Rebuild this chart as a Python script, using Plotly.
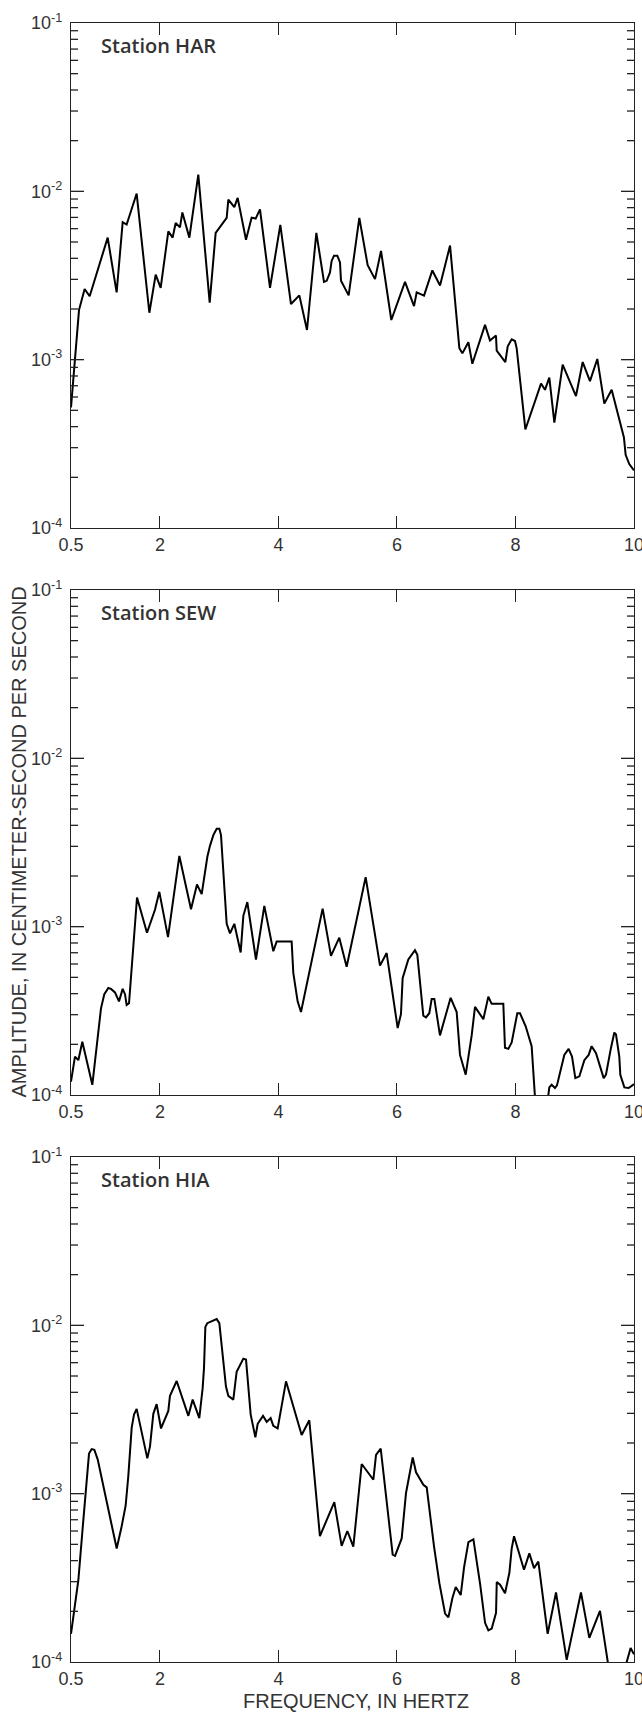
import math
import plotly.graph_objects as go

# ---------------- data ----------------
har_freq = [0.5, 0.635, 0.73, 0.815, 1.119, 1.27, 1.372, 1.439, 1.608, 1.822,
            1.929, 2.013, 2.142, 2.215, 2.266, 2.339, 2.379, 2.497, 2.648, 2.84,
            2.941, 3.127, 3.155, 3.256, 3.312, 3.453, 3.548, 3.616, 3.689, 3.858,
            4.032, 4.212, 4.353, 4.482, 4.64, 4.769, 4.814, 4.87, 4.898, 4.938,
            4.994, 5.039, 5.056, 5.185, 5.365, 5.506, 5.63, 5.731, 5.905, 6.136,
            6.288, 6.333, 6.457, 6.597, 6.727, 6.896, 7.053, 7.104, 7.205, 7.272,
            7.486, 7.570, 7.671, 7.683, 7.829, 7.869, 7.936, 7.992, 8.02, 8.167,
            8.431, 8.498, 8.571, 8.656, 8.796, 9.021, 9.134, 9.257, 9.381, 9.499,
            9.623, 9.83, 9.859, 9.92, 10.0]
har_amp = [5.2e-4, 1.97e-3, 2.63e-3, 2.38e-3, 5.31e-3, 2.51e-3, 6.56e-3, 6.35e-3, 9.7e-3, 1.9e-3,
           3.2e-3, 2.67e-3, 5.78e-3, 5.31e-3, 6.48e-3, 6.11e-3, 7.49e-3, 5.31e-3, 1.256e-2, 2.18e-3,
           5.67e-3, 6.95e-3, 8.93e-3, 8.05e-3, 9.14e-3, 5.16e-3, 6.98e-3, 6.89e-3, 7.82e-3, 2.67e-3,
           6.32e-3, 2.14e-3, 2.41e-3, 1.5e-3, 5.67e-3, 2.9e-3, 2.94e-3, 3.3e-3, 3.86e-3, 4.15e-3,
           4.15e-3, 3.78e-3, 2.94e-3, 2.41e-3, 6.95e-3, 3.64e-3, 3.01e-3, 4.43e-3, 1.72e-3, 2.9e-3,
           2.08e-3, 2.51e-3, 2.4e-3, 3.39e-3, 2.76e-3, 4.76e-3, 1.17e-3, 1.09e-3, 1.27e-3, 9.45e-4,
           1.61e-3, 1.30e-3, 1.39e-3, 1.13e-3, 9.68e-4, 1.2e-3, 1.32e-3, 1.29e-3, 1.17e-3, 3.85e-4,
           7.21e-4, 6.62e-4, 7.82e-4, 4.23e-4, 9.35e-4, 6.08e-4, 9.68e-4, 7.46e-4, 1.01e-3, 5.48e-4,
           6.62e-4, 3.45e-4, 2.72e-4, 2.4e-4, 2.2e-4]

sew_freq = [0.5, 0.567, 0.624, 0.691, 0.86, 1.006, 1.062, 1.13, 1.175, 1.242,
            1.31, 1.372, 1.411, 1.439, 1.479, 1.614, 1.782, 1.917, 1.99, 2.137,
            2.328, 2.525, 2.626, 2.705, 2.801, 2.845, 2.902, 2.958, 3.003, 3.031,
            3.127, 3.183, 3.256, 3.363, 3.408, 3.475, 3.621, 3.762, 3.914, 3.97,
            4.223, 4.251, 4.324, 4.381, 4.746, 4.887, 5.027, 5.151, 5.472, 5.714,
            5.826, 6.012, 6.068, 6.096, 6.192, 6.304, 6.344, 6.445, 6.49, 6.546,
            6.586, 6.631, 6.726, 6.906, 7.008, 7.064, 7.16, 7.261, 7.317, 7.458,
            7.542, 7.598, 7.795, 7.823, 7.88, 7.936, 8.031, 8.076, 8.172, 8.273,
            8.345, 8.44, 8.52, 8.571, 8.61, 8.667, 8.7, 8.824, 8.897, 8.954,
            9.01, 9.078, 9.162, 9.235, 9.285, 9.359, 9.488, 9.527, 9.612, 9.668,
            9.696, 9.752, 9.769, 9.837, 9.91, 10.0]
sew_amp = [1.2e-4, 1.69e-4, 1.61e-4, 2.07e-4, 1.15e-4, 3.27e-4, 3.97e-4, 4.32e-4, 4.27e-4, 4.07e-4,
           3.6e-4, 4.27e-4, 3.97e-4, 3.43e-4, 3.51e-4, 1.49e-3, 9.2e-4, 1.26e-3, 1.61e-3, 8.67e-4,
           2.63e-3, 1.27e-3, 1.78e-3, 1.56e-3, 2.6e-3, 3.02e-3, 3.5e-3, 3.82e-3, 3.82e-3, 3.5e-3,
           1.04e-3, 9.12e-4, 1.04e-3, 7.03e-4, 1.16e-3, 1.4e-3, 6.38e-4, 1.33e-3, 7.14e-4, 8.15e-4,
           8.15e-4, 5.32e-4, 3.6e-4, 3.11e-4, 1.28e-3, 6.7e-4, 8.6e-4, 5.78e-4, 1.97e-3, 5.87e-4,
           6.97e-4, 2.5e-4, 3.03e-4, 4.94e-4, 6.38e-4, 7.24e-4, 6.8e-4, 2.96e-4, 2.89e-4, 3.06e-4,
           3.72e-4, 3.72e-4, 2.26e-4, 3.78e-4, 3.11e-4, 1.73e-4, 1.32e-4, 2.26e-4, 3.34e-4, 2.82e-4,
           3.84e-4, 3.48e-4, 3.48e-4, 1.91e-4, 1.88e-4, 2.05e-4, 3.06e-4, 3.06e-4, 2.56e-4, 1.95e-4,
           8e-5, 6e-5, 8e-5, 1.11e-4, 1.15e-4, 1.1e-4, 1.14e-4, 1.73e-4, 1.88e-4, 1.69e-4,
           1.26e-4, 1.29e-4, 1.61e-4, 1.73e-4, 1.95e-4, 1.77e-4, 1.26e-4, 1.32e-4, 1.91e-4, 2.35e-4,
           2.29e-4, 1.69e-4, 1.32e-4, 1.11e-4, 1.1e-4, 1.16e-4]

hia_freq = [0.5, 0.624, 0.697, 0.753, 0.804, 0.849, 0.894, 0.95, 1.271, 1.355,
            1.422, 1.467, 1.524, 1.563, 1.608, 1.788, 1.833, 1.889, 1.945, 2.019,
            2.114, 2.142, 2.170, 2.226, 2.283, 2.48, 2.553, 2.665, 2.721, 2.744,
            2.767, 2.8, 2.902, 2.958, 3.003, 3.070, 3.115, 3.155, 3.239, 3.295,
            3.352, 3.408, 3.453, 3.492, 3.532, 3.611, 3.650, 3.740, 3.802, 3.869,
            3.914, 3.987, 4.128, 4.392, 4.521, 4.70, 4.943, 5.067, 5.163, 5.264,
            5.405, 5.602, 5.647, 5.726, 5.928, 5.968, 6.080, 6.153, 6.266, 6.322,
            6.390, 6.446, 6.502, 6.559, 6.626, 6.716, 6.812, 6.868, 6.936, 6.992,
            7.076, 7.133, 7.206, 7.290, 7.346, 7.403, 7.487, 7.543, 7.599, 7.672,
            7.684, 7.740, 7.824, 7.897, 7.936, 7.976, 8.144, 8.234, 8.313, 8.386,
            8.543, 8.684, 8.864, 9.105, 9.246, 9.426, 9.60, 9.72, 9.84, 9.943,
            10.0]
hia_amp = [1.47e-4, 3.06e-4, 6.25e-4, 1.04e-3, 1.73e-3, 1.84e-3, 1.82e-3, 1.6e-3, 4.72e-4, 6.41e-4,
           8.48e-4, 1.27e-3, 2.47e-3, 2.95e-3, 3.19e-3, 1.62e-3, 1.91e-3, 2.98e-3, 3.4e-3, 2.44e-3,
           2.95e-3, 3.1e-3, 3.81e-3, 4.22e-3, 4.67e-3, 2.9e-3, 3.62e-3, 2.81e-3, 4.22e-3, 5.57e-3,
           9.77e-3, 1.03e-2, 1.07e-2, 1.09e-2, 1.03e-2, 6.43e-3, 4.33e-3, 3.81e-3, 3.62e-3, 5.3e-3,
           5.81e-3, 6.34e-3, 6.27e-3, 4.43e-3, 2.95e-3, 2.16e-3, 2.6e-3, 2.9e-3, 2.67e-3, 2.81e-3,
           2.53e-3, 2.44e-3, 4.65e-3, 2.23e-3, 2.73e-3, 5.6e-4, 8.91e-4, 4.9e-4, 6.0e-4, 4.84e-4,
           1.5e-3, 1.21e-3, 1.7e-3, 1.85e-3, 4.34e-4, 4.27e-4, 5.42e-4, 1.01e-3, 1.64e-3, 1.34e-3,
           1.21e-3, 1.13e-3, 1.09e-3, 7.28e-4, 4.84e-4, 2.94e-4, 1.94e-4, 1.84e-4, 2.4e-4, 2.79e-4,
           2.5e-4, 3.66e-4, 5.15e-4, 5.36e-4, 3.96e-4, 2.91e-4, 1.71e-4, 1.54e-4, 1.58e-4, 1.96e-4,
           2.99e-4, 2.88e-4, 2.56e-4, 3.39e-4, 4.72e-4, 5.59e-4, 3.53e-4, 4.42e-4, 3.61e-4, 3.95e-4,
           1.47e-4, 2.59e-4, 1.03e-4, 2.59e-4, 1.39e-4, 2.01e-4, 8e-5, 6e-5, 9e-5, 1.21e-4,
           1.11e-4]

stations = ["Station HAR", "Station SEW", "Station HIA"]
x_tick_vals = [0.5, 2, 4, 6, 8, 10]
x_tick_text = ["0.5", "2", "4", "6", "8", "10"]
y_tick_vals = [1e-4, 1e-3, 1e-2, 1e-1]
y_tick_text = ["10<sup>-4</sup>", "10<sup>-3</sup>", "10<sup>-2</sup>", "10<sup>-1</sup>"]
y_minor_vals = [m * 10.0 ** e for e in (-4, -3, -2) for m in range(2, 10)]
x_title = "FREQUENCY, IN HERTZ"
y_title = "AMPLITUDE, IN CENTIMETER-SECOND PER SECOND"

# ---------------- layout ----------------
W, H = 642, 1714
L, R, T, B = 71, 8, 23, 52
ph = H - T - B
pw = W - L - R
panels_px = [(23, 528), (590, 1095), (1157, 1662)]  # top, bottom in px from top
Y_RANGE = [-4, -1]

def dom(top, bot):
    return [(H - B - bot) / ph, (H - B - top) / ph]

def y_frac(v):
    # position of value v inside the log y axis domain
    return (math.log10(v) - Y_RANGE[0]) / (Y_RANGE[1] - Y_RANGE[0])

TICKFONT = dict(family="Liberation Sans Narrow, Arial Narrow, Liberation Sans, Arial", size=18, color="#333")
AX = "#222"
MAJOR_LEN, MINOR_LEN = 13, 7

fig = go.Figure()
series = [(har_freq, har_amp), (sew_freq, sew_amp), (hia_freq, hia_amp)]
layout = {}
shapes = []
for i, ((f, a), (top, bot)) in enumerate(zip(series, panels_px), start=1):
    sfx = "" if i == 1 else str(i)
    fig.add_trace(go.Scatter(x=f, y=a, mode="lines",
                             line=dict(color="black", width=2),
                             xaxis="x" + sfx, yaxis="y" + sfx,
                             showlegend=False, hoverinfo="skip"))
    layout["xaxis" + sfx] = dict(
        domain=[0, 1], anchor="y" + sfx, range=[0.5, 10],
        tickmode="array", tickvals=x_tick_vals, ticktext=x_tick_text,
        ticks="inside", ticklen=12, tickwidth=1.3, tickcolor=AX,
        showline=True, linecolor=AX, linewidth=1.3, mirror="ticks",
        ticklabeloverflow="allow", automargin=False,
        showgrid=False, zeroline=False, tickfont=TICKFONT, fixedrange=True)
    layout["yaxis" + sfx] = dict(
        domain=dom(top, bot), anchor="x" + sfx, type="log", range=Y_RANGE,
        tickmode="array", tickvals=y_tick_vals, ticktext=y_tick_text,
        ticks="", ticklabelstandoff=4,
        showline=True, linecolor=AX, linewidth=1.3, mirror=True,
        ticklabeloverflow="allow", automargin=False,
        showgrid=False, zeroline=False, tickfont=TICKFONT, fixedrange=True)
    # log ticks (major + minor) on both sides, positioned on the y axis domain
    for vals, ln in ((y_tick_vals[1:-1], MAJOR_LEN), (y_minor_vals, MINOR_LEN)):
        for v in vals:
            yy = y_frac(v)
            for x0, x1 in ((0, ln / pw), (1 - ln / pw, 1)):
                shapes.append(dict(type="line", xref="x" + sfx + " domain",
                                   yref="y" + sfx + " domain",
                                   x0=x0, x1=x1, y0=yy, y1=yy,
                                   line=dict(color=AX, width=1.3), layer="above"))

annotations = []
for i, name in enumerate(stations, start=1):
    sfx = "" if i == 1 else str(i)
    annotations.append(dict(
        text=name, xref="x" + sfx + " domain", yref="y" + sfx + " domain",
        x=28 / pw, y=1 - 22 / 505, xanchor="left", yanchor="middle",
        showarrow=False,
        font=dict(family="Open Sans, Roboto, Liberation Sans, Arial", size=20, color="#333", weight=600)))

annotations.append(dict(
    text=y_title, xref="paper", yref="paper",
    x=(18 - L) / pw, y=(H - B - 842.5) / ph,
    xanchor="center", yanchor="middle", textangle=-90, showarrow=False,
    font=dict(family="Liberation Sans, Arial", size=20, color="#333")))
annotations.append(dict(
    text=x_title, xref="paper", yref="paper",
    x=(356 - L) / pw, y=(H - B - 1701) / ph,
    xanchor="center", yanchor="middle", showarrow=False,
    font=dict(family="Liberation Sans, Arial", size=20, color="#333")))

fig.update_layout(
    width=W, height=H, autosize=False,
    margin=dict(l=L, r=R, t=T, b=B, pad=0, autoexpand=False),
    paper_bgcolor="white", plot_bgcolor="white",
    annotations=annotations, shapes=shapes, **layout)

fig.write_html("out.html", include_plotlyjs=True, config={"displayModeBar": False})
